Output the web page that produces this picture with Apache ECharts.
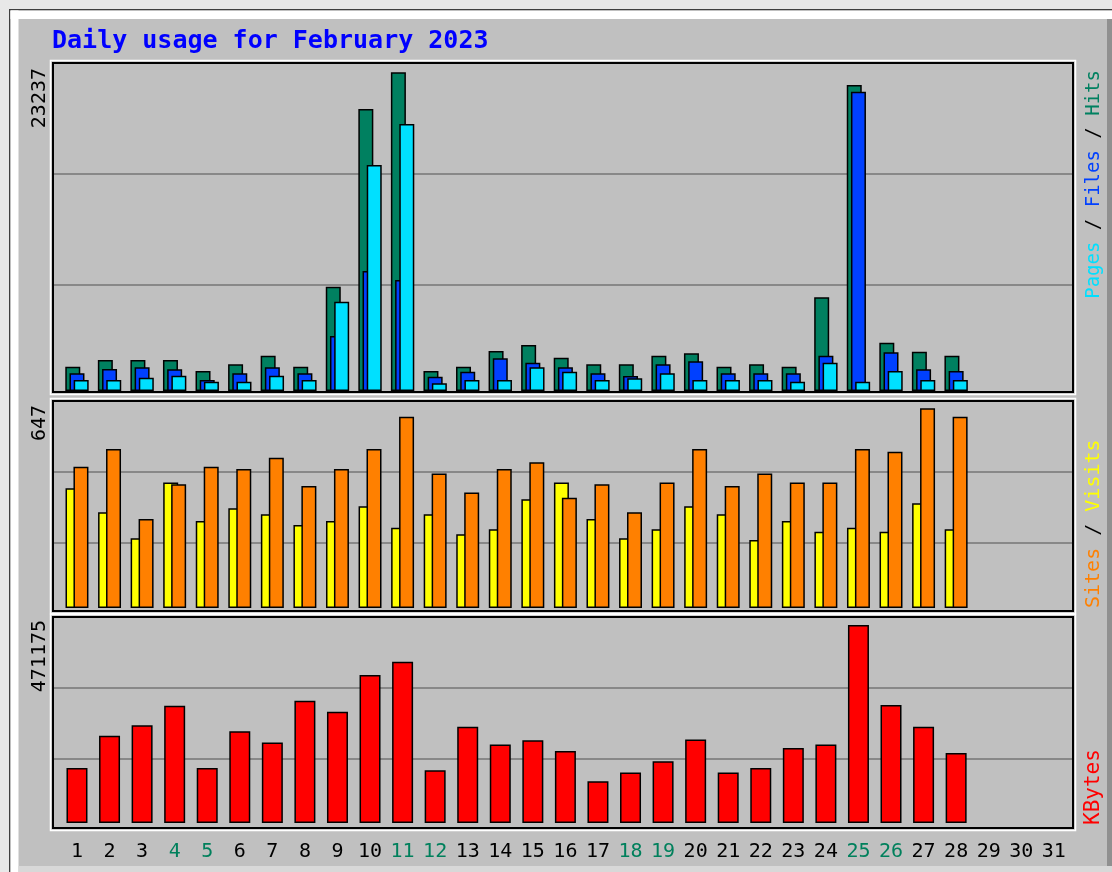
<!DOCTYPE html>
<html>
<head>
<meta charset="utf-8">
<script src="https://cdn.jsdelivr.net/npm/echarts@6/dist/echarts.min.js"></script>
<style>
  html, body { margin: 0; padding: 0; background: #e8e8e8; }
  #chart { width: 1112px; height: 872px; }
</style>
</head>
<body>
<div id="chart"></div>
<script>
const days = ['1','2','3','4','5','6','7','8','9','10','11','12','13','14','15','16','17','18','19','20','21','22','23','24','25','26','27','28','29','30','31'];
const weekendDays = ['4','5','11','12','18','19','25','26'];
const titleText = 'Daily usage for February 2023';

const hits   = [1772,2260,2260,2260,1458,1947,2574,1772,7605,20561,23237,1458,1772,2916,3354,2428,1947,1947,2574,2749,1772,1947,1772,6832,22310,3522,2865,2574];
const files  = [1290,1604,1728,1582,802,1290,1728,1290,4010,8749,8093,1043,1407,2384,2063,1728,1290,1094,1947,2165,1290,1290,1290,2574,21822,2822,1582,1458];
const pages  = [802,802,970,1116,678,678,1116,802,6511,16478,19467,561,802,802,1728,1407,802,926,1290,802,802,802,678,2063,678,1458,802,802];
const visits = [388,310,226,407,282,323,304,269,282,330,260,304,239,255,352,407,288,226,255,330,304,220,282,247,260,247,339,255];
const sites  = [458,515,288,401,458,450,487,395,450,515,620,436,374,450,472,357,401,310,407,515,395,436,407,407,515,506,647,620];
const kbytes = [131082,207347,232848,278846,131082,218549,191617,290763,264546,352013,383711,125600,228797,186851,197099,171598,99384,120118,147050,198767,120118,131082,178748,186851,471175,280514,228797,166831];

const maxTop = Math.max(...hits);
const maxMid = Math.max(...sites, ...visits);
const maxBot = Math.max(...kbytes);

const C = {
  hits: '#008060', files: '#0040ff', pages: '#00e0ff',
  visits: '#ffff00', sites: '#ff8000', kbytes: '#ff0000',
  weekend: '#00805c', grid: '#888888', bg: '#c0c0c0'
};
const MONO = 'DejaVu Sans Mono';

const chart = echarts.init(document.getElementById('chart'), null, { renderer: 'canvas' });

const frameGrids = [
  { left: 53, width: 1020, top: 63, height: 333 },
  { left: 53, width: 1020, top: 401, height: 213 },
  { left: 53, width: 1020, top: 617, height: 213 }
];
const barGrids = [
  { left: 60.7, width: 1009.4, top: 63, height: 328 },
  { left: 60.7, width: 1009.4, top: 401, height: 207 },
  { left: 60.7, width: 1009.4, top: 617, height: 206 }
];
const scaleMax = [maxTop * 328 / 318.7, maxMid * 207 / 199.7, maxBot * 206 / 198];

const xAxes = [], yAxes = [];
frameGrids.forEach((g, i) => {
  xAxes.push({ type: 'value', gridIndex: i, min: 0, max: 1, show: false });
  yAxes.push({
    type: 'value', gridIndex: i, min: 0, max: 3, interval: 1,
    axisLine: { show: false }, axisTick: { show: false }, axisLabel: { show: false },
    splitLine: { show: true, showMinLine: false, showMaxLine: false, lineStyle: { color: C.grid, width: 2 } }
  });
});
barGrids.forEach((g, i) => {
  xAxes.push({
    type: 'category', gridIndex: 3 + i, data: days,
    axisLine: { show: false }, axisTick: { show: false },
    axisLabel: {
      show: i === 2, interval: 0, margin: 19,
      fontFamily: MONO, fontSize: 20,
      color: (v) => weekendDays.includes(v) ? C.weekend : '#000000'
    },
    splitLine: { show: false }
  });
  yAxes.push({ type: 'value', gridIndex: 3 + i, min: 0, max: scaleMax[i], show: false, splitLine: { show: false } });
});

const border = { borderColor: '#000000', borderWidth: 1.5 };
function barSeries(name, data, idx, color, width, gap) {
  return {
    type: 'bar', name, data, xAxisIndex: idx, yAxisIndex: idx,
    barWidth: width, barGap: gap,
    itemStyle: Object.assign({ color }, border),
    silent: true
  };
}

const frameRects = [];
[[53, 63, 1020, 329], [53, 401, 1020, 210], [53, 617, 1020, 211]].forEach(r => {
  frameRects.push({
    type: 'rect', z: 5,
    shape: { x: r[0] - 2.5, y: r[1] - 2.5, width: r[2] + 5, height: r[3] + 5 },
    style: { fill: 'none', stroke: '#ffffff', lineWidth: 1.5 }
  });
  frameRects.push({
    type: 'rect', z: 6,
    shape: { x: r[0], y: r[1], width: r[2], height: r[3] },
    style: { fill: 'none', stroke: '#000000', lineWidth: 2 }
  });
});

function vText(x, y, text, align, size, rich, fill) {
  return {
    type: 'text', z: 10, x, y, rotation: Math.PI / 2,
    style: {
      text, fill: fill || '#000000', font: size + 'px "' + MONO + '"',
      align, verticalAlign: 'middle', textAlign: align, textVerticalAlign: 'middle',
      rich
    }
  };
}
const rs = (color, size) => ({ fill: color, color: color, font: size + 'px "' + MONO + '"', fontFamily: MONO, fontSize: size });

const option = {
  animation: false,
  backgroundColor: C.bg,
  grid: frameGrids.concat(barGrids),
  xAxis: xAxes,
  yAxis: yAxes,
  series: [
    barSeries('Hits', hits, 3, C.hits, 15, '-72%'),
    barSeries('Files', files, 3, C.files, 15, '-72%'),
    barSeries('Pages', pages, 3, C.pages, 15, '-72%'),
    barSeries('Visits', visits, 4, C.visits, 15, '-47%'),
    barSeries('Sites', sites, 4, C.sites, 15, '-47%'),
    barSeries('KBytes', kbytes, 5, C.kbytes, 21, '30%')
  ],
  graphic: [
    { type: 'rect', z: 1, shape: { x: 0, y: 0, width: 1112, height: 9 }, style: { fill: '#e8e8e8' } },
    { type: 'rect', z: 1, shape: { x: 0, y: 0, width: 9, height: 872 }, style: { fill: '#e8e8e8' } },
    { type: 'rect', z: 1, shape: { x: 9, y: 9, width: 1103, height: 1.5 }, style: { fill: '#404040' } },
    { type: 'rect', z: 1, shape: { x: 9, y: 9, width: 1.5, height: 863 }, style: { fill: '#404040' } },
    { type: 'rect', z: 1, shape: { x: 10.5, y: 10.5, width: 1101.5, height: 8.5 }, style: { fill: '#ffffff' } },
    { type: 'rect', z: 1, shape: { x: 10.5, y: 10.5, width: 8, height: 861.5 }, style: { fill: '#ffffff' } },
    { type: 'rect', z: 1, shape: { x: 1107, y: 19, width: 5, height: 853 }, style: { fill: '#909090' } },
    { type: 'rect', z: 1, shape: { x: 18.5, y: 866, width: 1094, height: 6 }, style: { fill: '#d8d8d8' } },
    ...frameRects,
    {
      type: 'text', z: 10, x: 52, y: 41,
      style: { text: titleText, fill: '#0000ff', font: 'bold 25px "' + MONO + '"', align: 'left', verticalAlign: 'middle', textAlign: 'left', textVerticalAlign: 'middle' }
    },
    vText(39.5, 68, String(maxTop), 'right', 20),
    vText(39.5, 405, String(maxMid), 'right', 20),
    vText(39.5, 620, String(maxBot), 'right', 20),
    vText(1094, 70, '{p|Pages}{s| / }{f|Files}{s| / }{h|Hits}', 'right', 19, {
      p: rs(C.pages, 19), f: rs(C.files, 19), h: rs(C.hits, 19), s: rs('#000000', 19)
    }),
    vText(1094, 608, '{a|Sites}{s| / }{b|Visits}', 'left', 20, {
      a: rs(C.sites, 20), b: rs(C.visits, 20), s: rs('#000000', 20)
    }),
    vText(1094, 825, 'KBytes', 'left', 21, null, C.kbytes)
  ]
};
chart.setOption(option);
</script>
</body>
</html>
